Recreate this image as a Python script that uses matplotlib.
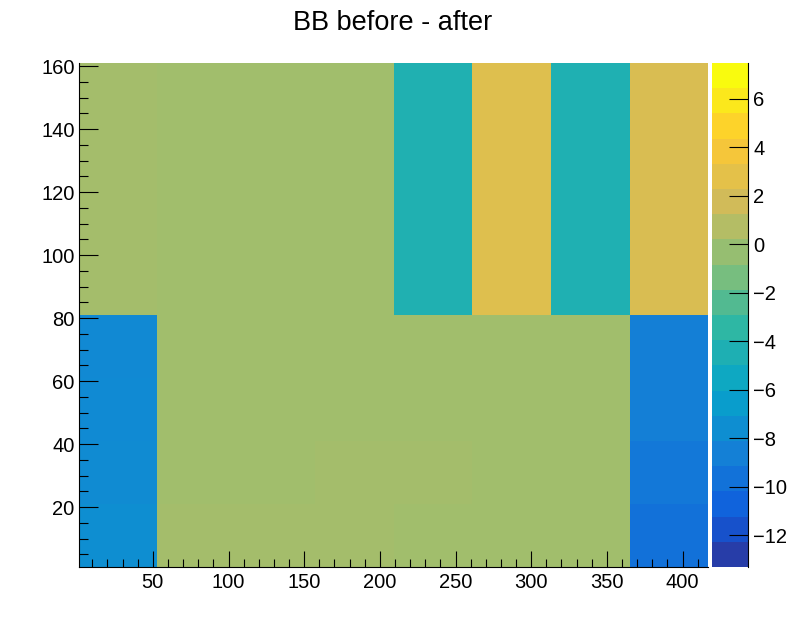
import numpy as np
import matplotlib
matplotlib.use("Agg")
import matplotlib.pyplot as plt
from matplotlib.colors import LinearSegmentedColormap, ListedColormap, BoundaryNorm, Normalize
from matplotlib.ticker import MultipleLocator

plt.rcParams['font.family'] = ['Liberation Sans', 'DejaVu Sans']

title = "BB before - after"
x_edges = [1, 53, 105, 157, 209, 261, 313, 365, 417]
y_edges = [1, 21, 41, 61, 81, 101, 121, 141, 161]
# regional mean of each block (rows bottom to top)
block_means = [
    [-7.1, 0.7, 0.7, 0.7, 0.6, 0.6, 0.6, -9.2],
    [-7.3, 0.6, 0.6, 0.7, 0.7, 0.6, 0.6, -8.7],
    [-7.4, 0.6, 0.6, 0.6, 0.6, 0.6, 0.6, -8.2],
    [-7.5, 0.6, 0.6, 0.6, 0.6, 0.6, 0.6, -8.2],
    [0.7, 0.6, 0.6, 0.6, -3.8, 3.0, -3.9, 2.7],
    [0.7, 0.6, 0.6, 0.6, -3.8, 3.0, -3.9, 2.7],
    [0.7, 0.6, 0.6, 0.6, -3.8, 3.0, -3.9, 2.7],
    [0.7, 0.6, 0.6, 0.6, -3.8, 3.0, -3.9, 2.7],
]
z_min, z_max, n_levels = -13.3, 7.48, 20
x_ticks = [50, 100, 150, 200, 250, 300, 350, 400]
y_ticks = [20, 40, 60, 80, 100, 120, 140, 160]
z_ticks = [-12, -10, -8, -6, -4, -2, 0, 2, 4, 6]

# ROOT kBird palette
bird_r = [0.2082, 0.0592, 0.0780, 0.0232, 0.1802, 0.5301, 0.8186, 0.9956, 0.9764]
bird_g = [0.1664, 0.3599, 0.5041, 0.6419, 0.7178, 0.7492, 0.7328, 0.7862, 0.9832]
bird_b = [0.5293, 0.8684, 0.8385, 0.7914, 0.6425, 0.4662, 0.3499, 0.1968, 0.0539]
bird = LinearSegmentedColormap.from_list("bird", list(zip(bird_r, bird_g, bird_b)), N=255)
# ROOT picks the upper end of each contour band from the palette
band_cmap = ListedColormap([bird((k + 1) / n_levels) for k in range(n_levels)])

W, H = 787, 630
fig = plt.figure(figsize=(W / 100, H / 100), dpi=100)
L, R, T, B = 78.7, 708.3, 63, 567
ax = fig.add_axes([L / W, 1 - B / H, (R - L) / W, (B - T) / H])
cax = fig.add_axes([712 / W, 1 - B / H, (748.3 - 712) / W, (B - T) / H])

ax.pcolormesh(x_edges, y_edges, np.array(block_means), cmap=bird,
              norm=Normalize(z_min, z_max), rasterized=True)
ax.set_xlim(1, 417)
ax.set_ylim(1, 161)
ax.set_xticks(x_ticks)
ax.set_yticks(y_ticks)
ax.xaxis.set_minor_locator(MultipleLocator(10))
ax.yaxis.set_minor_locator(MultipleLocator(5))
ax.tick_params(axis='x', which='major', direction='in', length=11.2, width=0.8, labelsize=14.5, pad=4.5)
ax.tick_params(axis='x', which='minor', direction='in', length=5.6, width=0.8)
ax.tick_params(axis='y', which='major', direction='in', length=13.6, width=0.8, labelsize=14.5, pad=3)
ax.tick_params(axis='y', which='minor', direction='in', length=6.8, width=0.8)
for s in ('top', 'right'):
    ax.spines[s].set_visible(False)
for s in ('left', 'bottom'):
    ax.spines[s].set_linewidth(0.8)

lev = np.linspace(z_min, z_max, n_levels + 1)
centres = 0.5 * (lev[:-1] + lev[1:])
cax.pcolormesh([0, 1], lev, centres.reshape(-1, 1), cmap=band_cmap,
               norm=BoundaryNorm(lev, n_levels), rasterized=True)
cax.set_xticks([])
cax.set_ylim(z_min, z_max)
cax.yaxis.tick_right()
cax.set_yticks(z_ticks)
cax.tick_params(axis='y', direction='in', length=13.6, width=0.8, labelsize=14.5, pad=3.5)
for s in ('top', 'left', 'bottom'):
    cax.spines[s].set_visible(False)
cax.spines['right'].set_linewidth(0.8)

fig.text(393 / W, 1 - 23 / H, title, ha='center', va='center', fontsize=19.5)
fig.savefig("out.png", dpi=100)
